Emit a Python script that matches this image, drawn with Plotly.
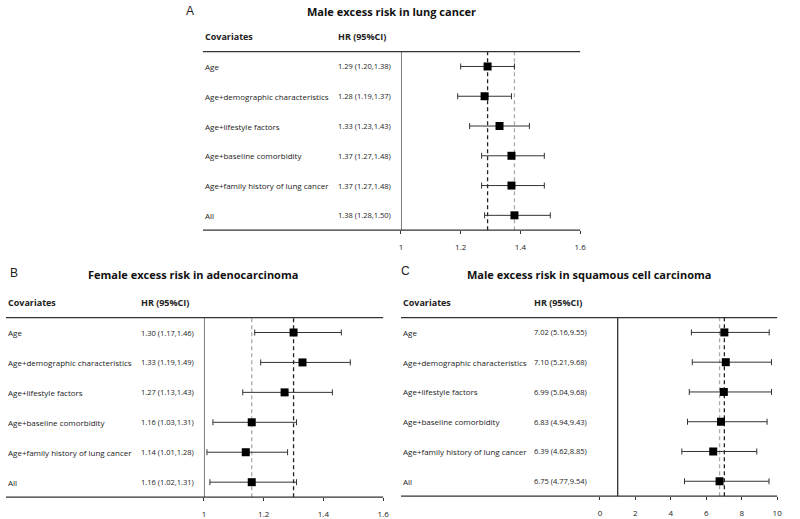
import plotly.graph_objects as go

W, H = 800, 519

covariates = ["Age", "Age+demographic characteristics", "Age+lifestyle factors",
              "Age+baseline comorbidity", "Age+family history of lung cancer", "All"]

# panel A: male, lung cancer
hr_a = [1.29, 1.28, 1.33, 1.37, 1.37, 1.38]
lo_a = [1.20, 1.19, 1.23, 1.27, 1.27, 1.28]
hi_a = [1.38, 1.37, 1.43, 1.48, 1.48, 1.50]
ticks_a = [1, 1.2, 1.4, 1.6]

# panel B: female, adenocarcinoma
hr_b = [1.30, 1.33, 1.27, 1.16, 1.14, 1.16]
lo_b = [1.17, 1.19, 1.13, 1.03, 1.01, 1.02]
hi_b = [1.46, 1.49, 1.43, 1.31, 1.28, 1.31]
ticks_b = [1, 1.2, 1.4, 1.6]

# panel C: male, squamous cell carcinoma
hr_c = [7.02, 7.10, 6.99, 6.83, 6.39, 6.75]
lo_c = [5.16, 5.21, 5.04, 4.94, 4.62, 4.77]
hi_c = [9.55, 9.68, 9.68, 9.43, 8.85, 9.54]
ticks_c = [0, 2, 4, 6, 8, 10]

titles = ["Male excess risk in lung cancer",
          "Female excess risk in adenocarcinoma",
          "Male excess risk in squamous cell carcinoma"]
letters = ["A", "B", "C"]

FONT = "Open Sans"
INK = "#333333"
TXT = "#222222"

# pixel layout of each panel: table left, HR column, plot x-domain, plot y-domain, title centre, letter pos
panels = [
    dict(left=203, hrx=337, xd=(403, 584), yd=(52, 232), tx=393, ty=12, lx=184, ly=11),
    dict(left=4, hrx=138, xd=(204, 385), yd=(320, 501), tx=193, ty=277, lx=6, ly=275),
    dict(left=403, hrx=535, xd=(604, 783), yd=(320, 500), tx=593, ty=277, lx=401, ly=273),
]
data = [(hr_a, lo_a, hi_a, ticks_a), (hr_b, lo_b, hi_b, ticks_b), (hr_c, lo_c, hi_c, ticks_c)]


def px(x):
    return x / W


def py(y):
    return 1 - y / H


fig = go.Figure()
shapes = []
annotations = []

for i, (p, (hr, lo, hi, ticks)) in enumerate(zip(panels, data)):
    n = "" if i == 0 else str(i + 1)
    xa, ya = "x" + n, "y" + n
    rows = list(range(len(covariates)))

    fig.add_trace(go.Scatter(
        x=hr, y=rows, xaxis=xa, yaxis=ya, mode="markers",
        marker=dict(symbol="square", size=8, color="black"),
        error_x=dict(type="data", symmetric=False,
                     array=[h - m for h, m in zip(hi, hr)],
                     arrayminus=[m - l for m, l in zip(hr, lo)],
                     color=INK, thickness=1, width=3),
        showlegend=False, hoverinfo="skip", cliponaxis=False,
    ))

    fig.update_layout(**{
        ("xaxis" + n): dict(
            domain=[px(p["xd"][0]), px(p["xd"][1])], anchor=ya,
            range=[ticks[0], ticks[-1]], tickvals=ticks,
            ticktext=[f"{t:g}" for t in ticks],
            ticks="outside", ticklen=3, tickcolor=INK, tickwidth=1,
            showgrid=False, zeroline=False, showline=False, fixedrange=True,
            tickfont=dict(family=FONT, size=8, color=TXT), ticklabelstandoff=6,
        ),
        ("yaxis" + n): dict(
            domain=[py(p["yd"][1]), py(p["yd"][0])], anchor=xa, fixedrange=True,
            range=[len(covariates) - 0.5, -0.5], visible=False,
        ),
    })

    # table rules
    for yv in (0, 1):
        shapes.append(dict(type="line", xref="paper", yref=ya + " domain",
                           x0=px(p["left"]), x1=px(p["xd"][1]), y0=yv, y1=yv,
                           line=dict(color=INK, width=1.3)))
    # reference line at 1
    shapes.append(dict(type="line", xref=xa, yref=ya + " domain", x0=1, x1=1, y0=0, y1=1,
                       line=dict(color=INK, width=1.3), layer="below"))
    # dashed lines: first model and full model
    shapes.append(dict(type="line", xref=xa, yref=ya + " domain", x0=hr[0], x1=hr[0], y0=0, y1=1,
                       line=dict(color="#222222", width=1.3, dash="4px,3px"), layer="below"))
    shapes.append(dict(type="line", xref=xa, yref=ya + " domain", x0=hr[-1], x1=hr[-1], y0=0, y1=1,
                       line=dict(color="#aaaaaa", width=1.3, dash="4px,3px"), layer="below"))

    for r, (lab, h, l, u) in enumerate(zip(covariates, hr, lo, hi)):
        annotations.append(dict(xref="paper", yref=ya, x=px(p["left"]), y=r, text=lab,
                                xanchor="left", yanchor="middle", showarrow=False,
                                font=dict(family=FONT, size=8, color=TXT)))
        annotations.append(dict(xref="paper", yref=ya, x=px(p["hrx"]), y=r,
                                text=f"{h:.2f} ({l:.2f},{u:.2f})",
                                xanchor="left", yanchor="middle", showarrow=False,
                                font=dict(family=FONT, size=7.5, color=TXT)))

    head_y = py(p["yd"][0] - 15)
    annotations.append(dict(xref="paper", yref="paper", x=px(p["left"]), y=head_y,
                            text="<b>Covariates</b>", xanchor="left", yanchor="middle",
                            showarrow=False, font=dict(family=FONT, size=9, color=TXT)))
    annotations.append(dict(xref="paper", yref="paper", x=px(p["hrx"]), y=head_y,
                            text="<b>HR (95%CI)</b>", xanchor="left", yanchor="middle",
                            showarrow=False, font=dict(family=FONT, size=9, color=TXT)))
    annotations.append(dict(xref="paper", yref="paper", x=px(p["tx"]), y=py(p["ty"]),
                            text="<b>" + titles[i] + "</b>", xanchor="center", yanchor="middle",
                            showarrow=False, font=dict(family=FONT, size=11, color="#111111")))
    annotations.append(dict(xref="paper", yref="paper", x=px(p["lx"]), y=py(p["ly"]),
                            text=letters[i], xanchor="left", yanchor="middle",
                            showarrow=False, font=dict(family="Liberation Sans", size=12, color=TXT)))

fig.update_layout(
    width=W, height=H, margin=dict(l=0, r=0, t=0, b=0),
    paper_bgcolor="white", plot_bgcolor="white",
    shapes=shapes, annotations=annotations,
)

# page body has a default 8px margin; drop it so the figure sits flush in the window
fig.write_html("out.html", config={"displayModeBar": False},
               post_script="document.body.style.margin='0';")
